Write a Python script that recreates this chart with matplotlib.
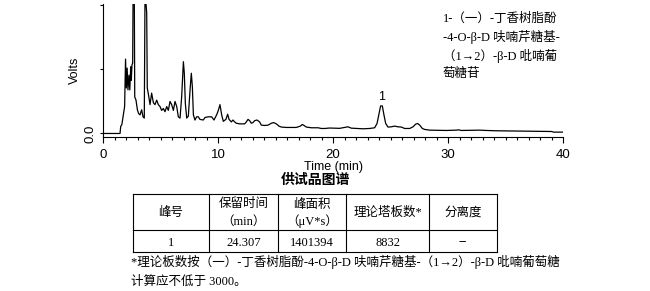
import matplotlib
matplotlib.use("Agg")
import matplotlib.pyplot as plt
from matplotlib.ticker import MultipleLocator

W, H = 650, 291

# chromatogram trace (min, volts in tick units)
time_min = [0, 1.48, 1.54, 1.64, 1.77, 1.88, 1.96, 2.03, 2.1, 2.17, 2.26, 2.33,
            2.41, 2.46, 2.52, 2.58, 2.63, 2.71, 2.76, 2.87, 2.99, 3.1, 3.22,
            3.36, 3.48, 3.59, 3.66, 3.74, 3.8, 3.85, 3.96, 4.09, 4.23, 4.38,
            4.52, 4.67, 4.81, 4.96, 5.1, 5.25, 5.39, 5.54, 5.68, 5.83, 5.97,
            6.12, 6.26, 6.41, 6.55, 6.7, 6.84, 6.99, 7.07, 7.16, 7.28, 7.42,
            7.57, 7.68, 7.77, 7.86, 8.0, 8.14, 8.29, 8.43, 8.72, 8.87, 9.16,
            9.45, 9.65, 9.88, 10.03, 10.17, 10.32, 10.46, 10.69, 10.84, 10.96,
            11.16, 11.3, 11.45, 11.59, 11.88, 12.32, 12.46, 12.61, 12.75, 12.9,
            13.04, 13.19, 13.39, 13.62, 13.77, 14.06, 14.35, 14.64, 14.84,
            15.07, 15.3, 15.51, 15.94, 16.81, 17.16, 17.33, 17.48, 17.68,
            18.12, 18.7, 18.99, 19.28, 19.71, 20.58, 21.01, 21.3, 21.59, 22.03,
            22.61, 23.19, 23.62, 23.83, 24.0, 24.14, 24.29, 24.43, 24.58,
            24.78, 25.07, 25.36, 25.65, 25.94, 26.23, 26.67, 26.96, 27.19,
            27.36, 27.54, 27.77, 27.97, 28.41, 29.86, 30.72, 30.9, 31.16,
            32.75, 33.33, 34.2, 37.1, 38.99, 39.19, 40]
volts = [0, 0, 0.11, 0.14, 0.29, 0.42, 1.16, 0.71, 1.02, 0.68, 0.91, 0.68,
         1.04, 0.83, 1.07, 1.1, 2.6, 2.6, 0.57, 0.52, 0.37, 0.31, 0.29,
         0.37, 0.26, 0.24, 2.4, 2.03, 1.88, 0.71, 0.6, 0.45, 0.63, 0.48,
         0.45, 0.52, 0.45, 0.42, 0.36, 0.39, 0.34, 0.42, 0.36, 0.50, 0.45,
         0.36, 0.50, 0.42, 0.26, 0.24, 0.57, 1.12, 0.94, 0.47, 0.24, 0.27,
         0.68, 0.94, 0.73, 0.29, 0.21, 0.26, 0.26, 0.22, 0.21, 0.25, 0.26,
         0.26, 0.21, 0.29, 0.36, 0.45, 0.29, 0.19, 0.22, 0.30, 0.22,
         0.18, 0.21, 0.18, 0.16, 0.15, 0.15, 0.18, 0.22, 0.20, 0.16,
         0.17, 0.20, 0.21, 0.18, 0.13, 0.125, 0.13, 0.16, 0.17,
         0.15, 0.115, 0.10, 0.094, 0.094, 0.115, 0.14, 0.125, 0.10,
         0.089, 0.089, 0.078, 0.078, 0.085, 0.08, 0.094, 0.104, 0.083, 0.078,
         0.073, 0.078, 0.089, 0.156, 0.31, 0.43, 0.43, 0.29, 0.156,
         0.10, 0.104, 0.115, 0.104, 0.10, 0.078, 0.078, 0.104, 0.146,
         0.156, 0.13, 0.078, 0.063, 0.052, 0.047, 0.052, 0.057, 0.047,
         0.052, 0.047, 0.042, 0.036, 0.031, 0.021, 0.021]

peak_label = "1"
peak_time = 24.25
peak_top = 0.43

compound_lines = ["1-（一）-丁香树脂酚",
                  "-4-O-β-D 呋喃芹糖基-",
                  "（1→2）-β-D 吡喃葡",
                  "萄糖苷"]
title = "供试品图谱"
table_header = [["峰号"], ["保留时间", "（min）"], ["峰面积", "（μV*s）"],
                ["理论塔板数*"], ["分离度"]]
table_row = ["1", "24.307", "1401394", "8832", "--"]
footnote = ["*理论板数按（一）-丁香树脂酚-4-O-β-D 呋喃芹糖基-（1→2）-β-D 吡喃葡萄糖",
            "计算应不低于 3000。"]

mixed = ["Liberation Serif", "Noto Sans CJK SC"]
sans = ["Liberation Sans", "DejaVu Sans"]

fig = plt.figure(figsize=(W / 100, H / 100), dpi=100)

# chromatogram
ax = fig.add_axes([103 / W, (H - 137) / H, 460 / W, 133 / H])
ax.plot(time_min, volts, color="black", lw=0.9)
ax.set_xlim(0, 40)
ax.set_ylim(-0.055, 2.02)
ax.spines["top"].set_visible(False)
ax.spines["right"].set_visible(False)
for s in ("left", "bottom"):
    ax.spines[s].set_linewidth(0.8)
ax.xaxis.set_major_locator(MultipleLocator(10))
ax.xaxis.set_minor_locator(MultipleLocator(1))
ax.set_yticks([0, 1, 2])
ax.set_yticklabels(["0.0", "", ""], rotation=90, va="center")
ax.tick_params(axis="x", which="major", length=4, width=0.8, pad=4.5)
ax.tick_params(axis="x", which="minor", length=2.5, width=0.8)
ax.tick_params(axis="y", length=2.5, width=0.8, pad=2.5)
for lab in ax.get_xticklabels() + ax.get_yticklabels():
    lab.set_family(sans)
    lab.set_fontsize(9.5)
ax.set_xlabel("Time (min)", family=sans, fontsize=9, labelpad=0)
ax.set_ylabel("Volts", family=sans, fontsize=9, labelpad=2)
ax.text(peak_time, peak_top + 0.05, peak_label, ha="center", va="bottom",
        family=sans, fontsize=9)

# overlay in pixel coordinates for the notes and the table
ov = fig.add_axes([0, 0, 1, 1])
ov.set_xlim(0, W)
ov.set_ylim(H, 0)
ov.axis("off")

for i, line in enumerate(compound_lines):
    ov.text(443, 19 + 18.3 * i, line, family=mixed, fontsize=9, va="center")

ov.text(315.5, 180, title, family="Noto Sans CJK SC", fontsize=10,
        weight="bold", ha="center", va="center")

col_x = [133, 209, 278, 346, 429, 497]
row_y = [194, 230, 252]
for y in row_y:
    ov.plot([col_x[0], col_x[-1]], [y, y], color="black", lw=0.8)
for x in col_x:
    ov.plot([x, x], [row_y[0], row_y[-1]], color="black", lw=0.8)

for j, cell in enumerate(table_header):
    cx = (col_x[j] + col_x[j + 1]) / 2
    if len(cell) == 1:
        ov.text(cx, 212.5, cell[0], family=mixed, fontsize=9,
                ha="center", va="center")
    else:
        ov.text(cx, 204.5, cell[0], family=mixed, fontsize=9,
                ha="center", va="center")
        ov.text(cx, 221.5, cell[1], family=mixed, fontsize=9,
                ha="center", va="center")
for j, val in enumerate(table_row):
    cx = (col_x[j] + col_x[j + 1]) / 2
    ov.text(cx, 242.5, val, family=mixed, fontsize=9, ha="center", va="center")

ov.text(131, 262, footnote[0], family=mixed, fontsize=9, va="center")
ov.text(131, 282, footnote[1], family=mixed, fontsize=9, va="center")

fig.savefig("out.png", dpi=100)
